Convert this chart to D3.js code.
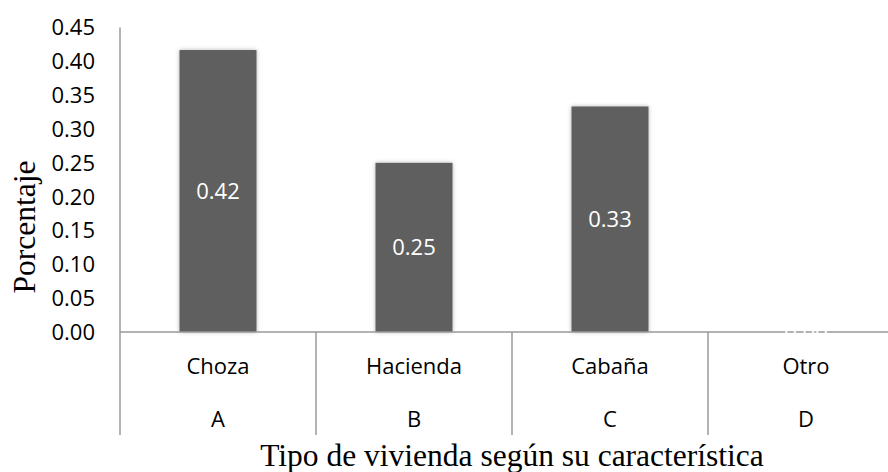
<!DOCTYPE html>
<html>
<head>
<meta charset="utf-8">
<script src="https://d3js.org/d3.v7.min.js"></script>
<style>
  body { margin: 0; background: #fff; }
  svg text { font-family: "Open Sans", "Noto Sans", sans-serif; }
  .serif { font-family: "Liberation Serif", "Times New Roman", serif !important; }
</style>
</head>
<body>
<svg id="chart" width="888" height="472"></svg>
<script>
const categories = ["Choza", "Hacienda", "Cabaña", "Otro"]
const letters = ["A", "B", "C", "D"]
const values = [0.4167, 0.25, 0.3333, 0]
const labels = ["0.42", "0.25", "0.33", "0.00"]
const yTicks = [0, 0.05, 0.10, 0.15, 0.20, 0.25, 0.30, 0.35, 0.40, 0.45]

const svg = d3.select("#chart")
const plotLeft = 120, plotTop = 27.5, plotBottom = 332, bandW = 196, axisEnd = 435

const x = d3.scaleBand()
  .domain(categories)
  .range([plotLeft, plotLeft + bandW * categories.length])
const y = d3.scaleLinear()
  .domain([0, 0.45])
  .range([plotBottom, plotTop])

// soft shadow for the bars
const defs = svg.append("defs")
const f = defs.append("filter").attr("id", "shadow")
  .attr("x", "-20%").attr("y", "-5%").attr("width", "140%").attr("height", "110%")
f.append("feDropShadow").attr("dx", 0).attr("dy", 0).attr("stdDeviation", 2.2)
  .attr("flood-color", "#000").attr("flood-opacity", 0.3)

// y tick labels
svg.append("g").selectAll("text")
  .data(yTicks).join("text")
  .attr("x", 95).attr("y", d => y(d))
  .attr("dy", "0.36em")
  .attr("text-anchor", "end")
  .attr("font-size", 22)
  .attr("fill", "#000")
  .text(d => d.toFixed(2))

// bars
const barW = 77
svg.append("g").selectAll("rect")
  .data(values).join("rect")
  .attr("x", (d, i) => x(categories[i]) + x.bandwidth() / 2 - barW / 2)
  .attr("y", d => y(d))
  .attr("width", barW)
  .attr("height", d => plotBottom - y(d))
  .attr("fill", "#5f5f5f")
  .attr("filter", d => d > 0 ? "url(#shadow)" : null)

// axes lines
const axisColor = "#999"
svg.append("line")
  .attr("x1", plotLeft).attr("x2", plotLeft)
  .attr("y1", plotTop).attr("y2", axisEnd)
  .attr("stroke", axisColor).attr("stroke-width", 1.5)
svg.append("line")
  .attr("x1", plotLeft).attr("x2", plotLeft + bandW * categories.length)
  .attr("y1", plotBottom).attr("y2", plotBottom)
  .attr("stroke", axisColor).attr("stroke-width", 1.5)
svg.append("g").selectAll("line")
  .data(categories).join("line")
  .attr("x1", (d, i) => plotLeft + bandW * (i + 1))
  .attr("x2", (d, i) => plotLeft + bandW * (i + 1))
  .attr("y1", plotBottom).attr("y2", axisEnd)
  .attr("stroke", axisColor).attr("stroke-width", 1.5)

// value labels
svg.append("g").selectAll("text")
  .data(values).join("text")
  .attr("x", (d, i) => x(categories[i]) + x.bandwidth() / 2)
  .attr("y", d => (y(d) + plotBottom) / 2)
  .attr("dy", "0.36em")
  .attr("text-anchor", "middle")
  .attr("font-size", 22)
  .attr("fill", "#fff")
  .text((d, i) => labels[i])

// category labels
svg.append("g").selectAll("text")
  .data(categories).join("text")
  .attr("x", d => x(d) + x.bandwidth() / 2)
  .attr("y", 366).attr("dy", "0.36em")
  .attr("text-anchor", "middle")
  .attr("font-size", 22)
  .text(d => d)
svg.append("g").selectAll("text")
  .data(letters).join("text")
  .attr("x", (d, i) => x(categories[i]) + x.bandwidth() / 2)
  .attr("y", 419).attr("dy", "0.36em")
  .attr("text-anchor", "middle")
  .attr("font-size", 22)
  .text(d => d)

// axis titles
svg.append("text")
  .attr("class", "serif")
  .attr("transform", "translate(35,227) rotate(-90)")
  .attr("text-anchor", "middle")
  .attr("font-size", 31.5)
  .text("Porcentaje")
svg.append("text")
  .attr("class", "serif")
  .attr("x", 512).attr("y", 466)
  .attr("text-anchor", "middle")
  .attr("font-size", 31.5)
  .text("Tipo de vivienda según su característica")
</script>
</body>
</html>
